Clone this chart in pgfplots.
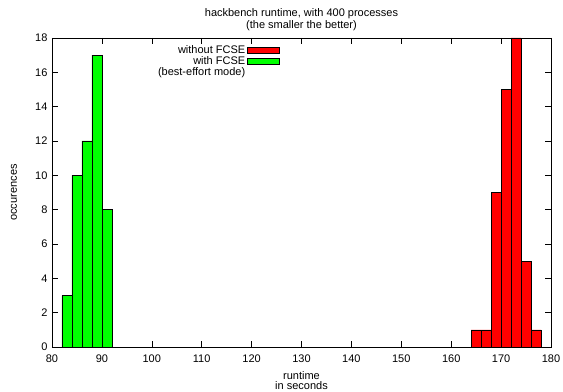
\documentclass[border=0pt]{standalone}
\usepackage{fontspec}
\setmainfont{Liberation Sans}
\usepackage{pgfplots}
\pgfplotsset{compat=1.18}
\begin{document}
\begin{tikzpicture}
\begin{axis}[
  scale only axis,
  width=499bp, height=309bp,
  xmin=80, xmax=180, ymin=0, ymax=18,
  xtick={80,90,...,180}, ytick={0,2,...,18},
  tick align=inside,
  major tick length=6bp,
  tick style={black, line width=0.5pt},
  axis line style={line width=0.6pt},
  /pgf/number format/assume math mode=true,
  ticklabel style={font=\fontsize{11bp}{13bp}\selectfont},
  xticklabel style={yshift=-4bp},
  yticklabel style={xshift=-1bp},
  title style={font=\fontsize{11bp}{12bp}\selectfont, align=center,
    at={(axis description cs:0.5,1)}, anchor=south, yshift=-2bp},
  title={hackbench runtime, with 400 processes\\(the smaller the better)},
  xlabel={runtime\\in seconds},
  xlabel style={font=\fontsize{11bp}{10bp}\selectfont, align=center,
    at={(axis description cs:0.5,-0.109)}, anchor=center},
  ylabel={occurences},
  ylabel style={font=\fontsize{11bp}{12bp}\selectfont,
    at={(axis description cs:-0.076,0.5)}, anchor=center},
  legend style={draw=none, fill=none, at={(0.463,0.99)}, anchor=north east,
    font=\fontsize{11bp}{12bp}\selectfont, row sep=-2.5bp,
    cells={anchor=east}},
  legend plot pos=right,
  legend image code/.code={\draw[#1, line width=0.6pt] (0bp,-3bp) rectangle (32bp,3bp);},
]
\addplot[ybar interval, fill={rgb,255:red,255;green,0;blue,0}, draw=black, line width=0.5pt]
  coordinates {(164,1)(166,1)(168,9)(170,15)(172,18)(174,5)(176,1)(178,1)};
\addlegendentry{without FCSE}
\addplot[ybar interval, fill={rgb,255:red,0;green,255;blue,0}, draw=black, line width=0.5pt]
  coordinates {(82,3)(84,10)(86,12)(88,17)(90,8)(92,8)};
\addlegendentry{with FCSE}
\addlegendimage{empty legend}
\addlegendentry{(best-effort mode)}
\end{axis}
\pgfresetboundingbox
\path[use as bounding box] ([shift={(-52bp,-45bp)}]current axis.south west) rectangle ([shift={(12bp,38bp)}]current axis.north east);
\end{tikzpicture}
\end{document}
